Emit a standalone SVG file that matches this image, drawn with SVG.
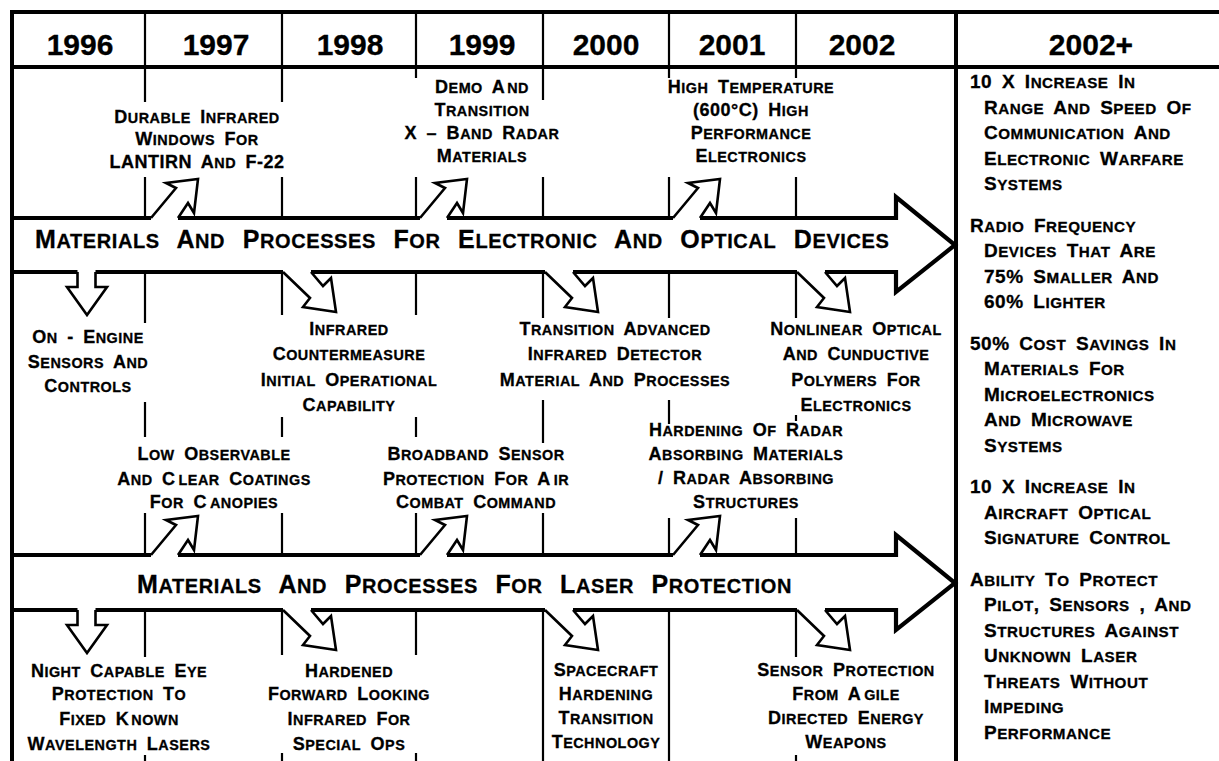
<svg xmlns="http://www.w3.org/2000/svg" width="1219" height="761" viewBox="0 0 1219 761">
<style>
text{font-family:"Liberation Sans",Arial,Helvetica,sans-serif;font-weight:bold;fill:#000;stroke:#000;stroke-width:0.3px}
.y{font-size:30px;text-anchor:middle}
.b{font-size:18px;text-anchor:middle;letter-spacing:0.5px;word-spacing:4px}
.r{font-size:19px;letter-spacing:0.5px;word-spacing:4px}
.m{font-size:25px;letter-spacing:0.6px;word-spacing:10px}
.s{font-size:0.8em}
.frame{stroke:#000;stroke-width:4;fill:none}
.grid{stroke:#000;stroke-width:2.2;fill:none}
.big{stroke:#000;stroke-width:4.2;fill:#fff;stroke-linejoin:miter}
.sa{fill:#fff;stroke:none}
.so{fill:none;stroke:#000;stroke-width:2.6;stroke-linejoin:miter}
</style>
<rect x="0" y="0" width="1219" height="761" fill="#fff"/>

<g id="grid">
<path class="grid" d="M145,12V67M282,12V67M416,12V67M543,12V67M669,12V67M796,12V67"/>
<path class="grid" d="M145,67V102M145,177V218M282,67V102M282,177V218M416,67V78M416,177V218M543,67V100M543,177V218M669,67V78M669,177V218M796,67V78M796,177V218"/>
<path class="grid" d="M145,272V323M145,402V437M145,513V555M282,272V315M282,417V437M282,513V555M416,272V315M416,417V437M416,513V555M543,272V318M543,400V443M543,513V555M669,272V318M669,400V424M669,518V555M796,272V318M796,415V421M796,518V555"/>
<path class="grid" d="M145,610V657M145,755V761M282,610V655M282,753V761M416,610V655M416,753V761M543,610V761M669,610V761M796,610V657M796,755V761"/>
</g>

<g id="arrow-electronic">
<path class="big" d="M12,218H896V197L955,245L896,292V272H12"/>
<text class="m" x="35" y="248">M<tspan class="s">ATERIALS</tspan> A<tspan class="s">ND</tspan> P<tspan class="s">ROCESSES</tspan> F<tspan class="s">OR</tspan> E<tspan class="s">LECTRONIC</tspan> A<tspan class="s">ND</tspan> O<tspan class="s">PTICAL</tspan> D<tspan class="s">EVICES</tspan></text>
</g>
<g id="arrow-laser">
<path class="big" d="M12,555H896V535L955,583L896,630V610H12"/>
<text class="m" x="137" y="593">M<tspan class="s">ATERIALS</tspan> A<tspan class="s">ND</tspan> P<tspan class="s">ROCESSES</tspan> F<tspan class="s">OR</tspan> L<tspan class="s">ASER</tspan> P<tspan class="s">ROTECTION</tspan></text>
</g>

<g id="connectors">
<polygon class="sa" points="151,220.5 151,218 176,188 166,183 198,179 194,213 188,203 178,218 178,220.5"/>
<polyline class="so" points="151,218 176,188 166,183 198,179 194,213 188,203 178,218"/>
<polygon class="sa" points="420,220.5 420,218 445,188 435,183 467,179 463,213 457,203 447,218 447,220.5"/>
<polyline class="so" points="420,218 445,188 435,183 467,179 463,213 457,203 447,218"/>
<polygon class="sa" points="673,220.5 673,218 698,188 688,183 720,179 716,213 710,203 700,218 700,220.5"/>
<polyline class="so" points="673,218 698,188 688,183 720,179 716,213 710,203 700,218"/>
<polygon class="sa" points="151,557.5 151,555 176,525 166,520 198,516 194,550 188,540 178,555 178,557.5"/>
<polyline class="so" points="151,555 176,525 166,520 198,516 194,550 188,540 178,555"/>
<polygon class="sa" points="420,557.5 420,555 445,525 435,520 467,516 463,550 457,540 447,555 447,557.5"/>
<polyline class="so" points="420,555 445,525 435,520 467,516 463,550 457,540 447,555"/>
<polygon class="sa" points="673,557.5 673,555 698,525 688,520 720,516 716,550 710,540 700,555 700,557.5"/>
<polyline class="so" points="673,555 698,525 688,520 720,516 716,550 710,540 700,555"/>
<polygon class="sa" points="283,269.5 283,272 310,298 303,307 336,312 331,278 323,286 311,272 311,269.5"/>
<polyline class="so" points="283,272 310,298 303,307 336,312 331,278 323,286 311,272"/>
<polygon class="sa" points="545,269.5 545,272 572,298 565,307 598,312 593,278 585,286 573,272 573,269.5"/>
<polyline class="so" points="545,272 572,298 565,307 598,312 593,278 585,286 573,272"/>
<polygon class="sa" points="797,269.5 797,272 824,298 817,307 850,312 845,278 837,286 825,272 825,269.5"/>
<polyline class="so" points="797,272 824,298 817,307 850,312 845,278 837,286 825,272"/>
<polygon class="sa" points="283,607.5 283,610 310,636 303,645 336,650 331,616 323,624 311,610 311,607.5"/>
<polyline class="so" points="283,610 310,636 303,645 336,650 331,616 323,624 311,610"/>
<polygon class="sa" points="545,607.5 545,610 572,636 565,645 598,650 593,616 585,624 573,610 573,607.5"/>
<polyline class="so" points="545,610 572,636 565,645 598,650 593,616 585,624 573,610"/>
<polygon class="sa" points="797,607.5 797,610 824,636 817,645 850,650 845,616 837,624 825,610 825,607.5"/>
<polyline class="so" points="797,610 824,636 817,645 850,650 845,616 837,624 825,610"/>
<polygon class="sa" points="77.5,269.5 77.5,287 67,287 87,315 107,287 95.5,287 95.5,269.5"/>
<polyline class="so" points="77.5,272 77.5,287 67,287 87,315 107,287 95.5,287 95.5,272"/>
<polygon class="sa" points="77.5,607.5 77.5,625 67,625 87,653 107,625 95.5,625 95.5,607.5"/>
<polyline class="so" points="77.5,610 77.5,625 67,625 87,653 107,625 95.5,625 95.5,610"/>
</g>

<g id="frame">
<path class="frame" d="M12,10V761M10,12H1219M12,67H1219M956,12V761"/>
</g>

<g id="header">
<text class="y" x="80" y="55">1996</text>
<text class="y" x="216" y="55">1997</text>
<text class="y" x="350" y="55">1998</text>
<text class="y" x="482" y="55">1999</text>
<text class="y" x="606" y="55">2000</text>
<text class="y" x="732" y="55">2001</text>
<text class="y" x="862" y="55">2002</text>
<text class="y" x="1091" y="55">2002+</text>
</g>

<g id="node-durable">
<text class="b" x="197" y="123">D<tspan class="s">URABLE</tspan> I<tspan class="s">NFRARED</tspan></text>
<text class="b" x="197" y="145">W<tspan class="s">INDOWS</tspan> F<tspan class="s">OR</tspan></text>
<text class="b" x="197" y="168">LANTIRN A<tspan class="s">ND</tspan> F-22</text>
</g>
<g id="node-demo">
<text class="b" x="482" y="93">D<tspan class="s">EMO</tspan> A<tspan class="s" dx="2">ND</tspan></text>
<text class="b" x="482" y="116">T<tspan class="s">RANSITION</tspan></text>
<text class="b" x="482" y="139">X – B<tspan class="s">AND</tspan> R<tspan class="s">ADAR</tspan></text>
<text class="b" x="482" y="162">M<tspan class="s">ATERIALS</tspan></text>
</g>
<g id="node-hightemp">
<text class="b" x="751" y="93">H<tspan class="s">IGH</tspan> T<tspan class="s">EMPERATURE</tspan></text>
<text class="b" x="751" y="116">(600°C) H<tspan class="s">IGH</tspan></text>
<text class="b" x="751" y="139">P<tspan class="s">ERFORMANCE</tspan></text>
<text class="b" x="751" y="162">E<tspan class="s">LECTRONICS</tspan></text>
</g>
<g id="node-onengine">
<text class="b" x="88" y="343">O<tspan class="s">N</tspan> - E<tspan class="s">NGINE</tspan></text>
<text class="b" x="88" y="368">S<tspan class="s">ENSORS</tspan> A<tspan class="s">ND</tspan></text>
<text class="b" x="88" y="392">C<tspan class="s">ONTROLS</tspan></text>
</g>
<g id="node-ircm">
<text class="b" x="349" y="335">I<tspan class="s">NFRARED</tspan></text>
<text class="b" x="349" y="360">C<tspan class="s">OUNTERMEASURE</tspan></text>
<text class="b" x="349" y="386">I<tspan class="s">NITIAL</tspan> O<tspan class="s">PERATIONAL</tspan></text>
<text class="b" x="349" y="411">C<tspan class="s">APABILITY</tspan></text>
</g>
<g id="node-irdetector">
<text class="b" x="615" y="335">T<tspan class="s">RANSITION</tspan> A<tspan class="s">DVANCED</tspan></text>
<text class="b" x="615" y="360">I<tspan class="s">NFRARED</tspan> D<tspan class="s">ETECTOR</tspan></text>
<text class="b" x="615" y="386">M<tspan class="s">ATERIAL</tspan> A<tspan class="s">ND</tspan> P<tspan class="s">ROCESSES</tspan></text>
</g>
<g id="node-nonlinear">
<text class="b" x="856" y="335">N<tspan class="s">ONLINEAR</tspan> O<tspan class="s">PTICAL</tspan></text>
<text class="b" x="856" y="360">A<tspan class="s">ND</tspan> C<tspan class="s">UNDUCTIVE</tspan></text>
<text class="b" x="856" y="386">P<tspan class="s">OLYMERS</tspan> F<tspan class="s">OR</tspan></text>
<text class="b" x="856" y="411">E<tspan class="s">LECTRONICS</tspan></text>
</g>
<g id="node-lowobs">
<text class="b" x="214" y="460">L<tspan class="s">OW</tspan> O<tspan class="s">BSERVABLE</tspan></text>
<text class="b" x="214" y="485">A<tspan class="s">ND</tspan> C<tspan class="s" dx="3">LEAR</tspan> C<tspan class="s">OATINGS</tspan></text>
<text class="b" x="214" y="508">F<tspan class="s">OR</tspan> C<tspan class="s" dx="3">ANOPIES</tspan></text>
</g>
<g id="node-broadband">
<text class="b" x="476" y="460">B<tspan class="s">ROADBAND</tspan> S<tspan class="s">ENSOR</tspan></text>
<text class="b" x="476" y="485">P<tspan class="s">ROTECTION</tspan> F<tspan class="s">OR</tspan> A<tspan class="s" dx="3">IR</tspan></text>
<text class="b" x="476" y="508">C<tspan class="s">OMBAT</tspan> C<tspan class="s">OMMAND</tspan></text>
</g>
<g id="node-hardening">
<text class="b" x="746" y="436">H<tspan class="s">ARDENING</tspan> O<tspan class="s">F</tspan> R<tspan class="s">ADAR</tspan></text>
<text class="b" x="746" y="460">A<tspan class="s">BSORBING</tspan> M<tspan class="s">ATERIALS</tspan></text>
<text class="b" x="746" y="484">/ R<tspan class="s">ADAR</tspan> A<tspan class="s">BSORBING</tspan></text>
<text class="b" x="746" y="508">S<tspan class="s">TRUCTURES</tspan></text>
</g>
<g id="node-nighteye">
<text class="b" x="119" y="677">N<tspan class="s">IGHT</tspan> C<tspan class="s">APABLE</tspan> E<tspan class="s">YE</tspan></text>
<text class="b" x="119" y="700">P<tspan class="s">ROTECTION</tspan> T<tspan class="s">O</tspan></text>
<text class="b" x="119" y="725">F<tspan class="s">IXED</tspan> K<tspan class="s" dx="2">NOWN</tspan></text>
<text class="b" x="119" y="750">W<tspan class="s">AVELENGTH</tspan> L<tspan class="s">ASERS</tspan></text>
</g>
<g id="node-flir">
<text class="b" x="349" y="677">H<tspan class="s">ARDENED</tspan></text>
<text class="b" x="349" y="700">F<tspan class="s">ORWARD</tspan> L<tspan class="s">OOKING</tspan></text>
<text class="b" x="349" y="725">I<tspan class="s">NFRARED</tspan> F<tspan class="s">OR</tspan></text>
<text class="b" x="349" y="750">S<tspan class="s">PECIAL</tspan> O<tspan class="s">PS</tspan></text>
</g>
<g id="node-spacecraft">
<text class="b" x="606" y="676">S<tspan class="s">PACECRAFT</tspan></text>
<text class="b" x="606" y="700">H<tspan class="s">ARDENING</tspan></text>
<text class="b" x="606" y="724">T<tspan class="s">RANSITION</tspan></text>
<text class="b" x="606" y="748">T<tspan class="s">ECHNOLOGY</tspan></text>
</g>
<g id="node-sensorprot">
<text class="b" x="846" y="676">S<tspan class="s">ENSOR</tspan> P<tspan class="s">ROTECTION</tspan></text>
<text class="b" x="846" y="700">F<tspan class="s">ROM</tspan> A<tspan class="s" dx="3">GILE</tspan></text>
<text class="b" x="846" y="724">D<tspan class="s">IRECTED</tspan> E<tspan class="s">NERGY</tspan></text>
<text class="b" x="846" y="748">W<tspan class="s">EAPONS</tspan></text>
</g>

<g id="node-goals">
<text class="r" x="970" y="88">10 X I<tspan class="s">NCREASE</tspan> I<tspan class="s">N</tspan></text>
<text class="r" x="984" y="113.5">R<tspan class="s">ANGE</tspan> A<tspan class="s">ND</tspan> S<tspan class="s">PEED</tspan> O<tspan class="s">F</tspan></text>
<text class="r" x="984" y="139">C<tspan class="s">OMMUNICATION</tspan> A<tspan class="s">ND</tspan></text>
<text class="r" x="984" y="164.5">E<tspan class="s">LECTRONIC</tspan> W<tspan class="s">ARFARE</tspan></text>
<text class="r" x="984" y="190">S<tspan class="s">YSTEMS</tspan></text>

<text class="r" x="970" y="231.5">R<tspan class="s">ADIO</tspan> F<tspan class="s">REQUENCY</tspan></text>
<text class="r" x="984" y="257">D<tspan class="s">EVICES</tspan> T<tspan class="s">HAT</tspan> A<tspan class="s">RE</tspan></text>
<text class="r" x="984" y="282.5">75% S<tspan class="s">MALLER</tspan> A<tspan class="s">ND</tspan></text>
<text class="r" x="984" y="308">60% L<tspan class="s">IGHTER</tspan></text>

<text class="r" x="970" y="349.5">50% C<tspan class="s">OST</tspan> S<tspan class="s">AVINGS</tspan> I<tspan class="s">N</tspan></text>
<text class="r" x="984" y="375">M<tspan class="s">ATERIALS</tspan> F<tspan class="s">OR</tspan></text>
<text class="r" x="984" y="400.5">M<tspan class="s">ICROELECTRONICS</tspan></text>
<text class="r" x="984" y="426">A<tspan class="s">ND</tspan> M<tspan class="s">ICROWAVE</tspan></text>
<text class="r" x="984" y="451.5">S<tspan class="s">YSTEMS</tspan></text>

<text class="r" x="970" y="493">10 X I<tspan class="s">NCREASE</tspan> I<tspan class="s">N</tspan></text>
<text class="r" x="984" y="518.5">A<tspan class="s">IRCRAFT</tspan> O<tspan class="s">PTICAL</tspan></text>
<text class="r" x="984" y="544">S<tspan class="s">IGNATURE</tspan> C<tspan class="s">ONTROL</tspan></text>

<text class="r" x="970" y="585.5">A<tspan class="s">BILITY</tspan> T<tspan class="s">O</tspan> P<tspan class="s">ROTECT</tspan></text>
<text class="r" x="984" y="611">P<tspan class="s">ILOT</tspan>, S<tspan class="s">ENSORS</tspan> , A<tspan class="s">ND</tspan></text>
<text class="r" x="984" y="636.5">S<tspan class="s">TRUCTURES</tspan> A<tspan class="s">GAINST</tspan></text>
<text class="r" x="984" y="662">U<tspan class="s">NKNOWN</tspan> L<tspan class="s">ASER</tspan></text>
<text class="r" x="984" y="687.5">T<tspan class="s">HREATS</tspan> W<tspan class="s">ITHOUT</tspan></text>
<text class="r" x="984" y="713">I<tspan class="s">MPEDING</tspan></text>
<text class="r" x="984" y="738.5">P<tspan class="s">ERFORMANCE</tspan></text>
</g>
</svg>
